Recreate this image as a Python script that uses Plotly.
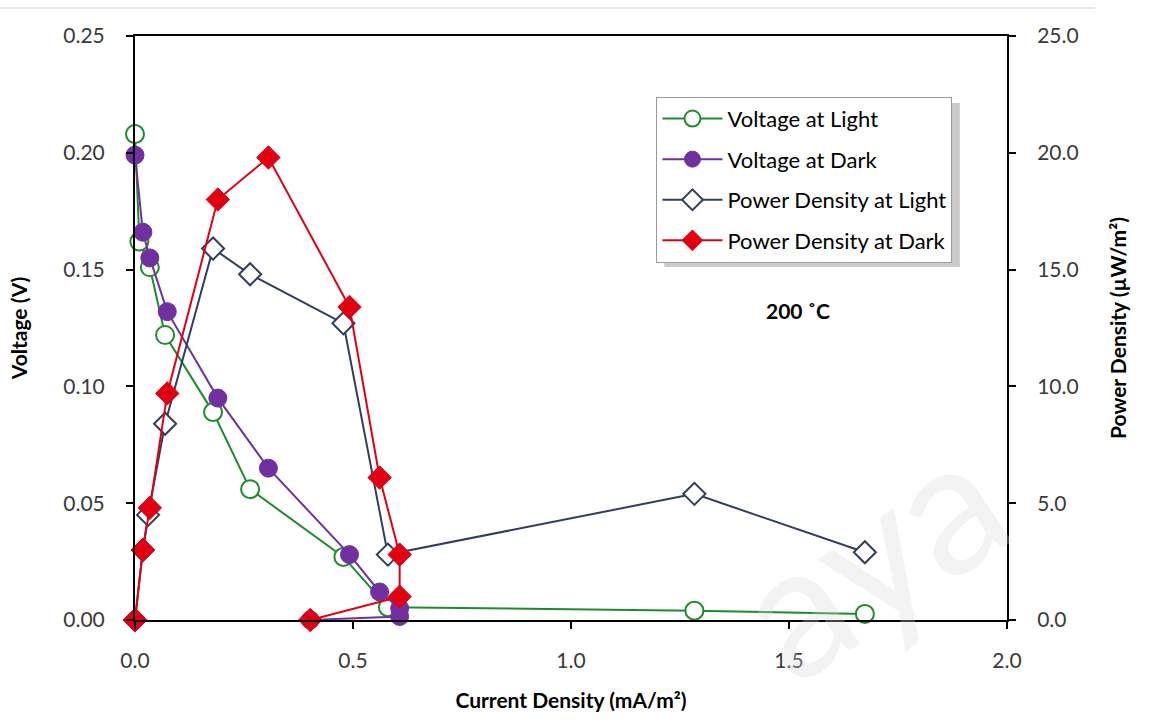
import plotly.graph_objects as go

# Current density (mA/m²) and measured series at 200 °C
cd_light = [0.000, 0.010, 0.034, 0.069, 0.179, 0.264, 0.478, 0.580, 1.283, 1.674]
v_light = [0.208, 0.162, 0.151, 0.122, 0.089, 0.056, 0.027, 0.0055, 0.0040, 0.0026]

cd_dark = [0.000, 0.018, 0.034, 0.074, 0.190, 0.306, 0.492, 0.561, 0.607, 0.607, 0.402]
v_dark = [0.199, 0.166, 0.155, 0.132, 0.095, 0.065, 0.028, 0.012, 0.0050, 0.0015, 0.000]

pd_cd_light = [0.000, 0.018, 0.030, 0.069, 0.179, 0.264, 0.478, 0.580, 1.283, 1.674]
p_light = [0.0, 3.0, 4.5, 8.4, 15.9, 14.8, 12.7, 2.8, 5.4, 2.9]

pd_cd_dark = [0.000, 0.018, 0.034, 0.074, 0.190, 0.306, 0.492, 0.561, 0.607, 0.607, 0.402]
p_dark = [0.0, 3.0, 4.8, 9.7, 18.0, 19.8, 13.4, 6.1, 2.8, 1.0, 0.0]

x_ticks = [0.0, 0.5, 1.0, 1.5, 2.0]
v_ticks = [0.00, 0.05, 0.10, 0.15, 0.20, 0.25]
p_ticks = [0.0, 5.0, 10.0, 15.0, 20.0, 25.0]

FONT = "Lato"
GREEN = "#1e8c2a"
PURPLE = "#7030a0"
NAVY = "#2f3e5f"
RED = "#e00012"

fig = go.Figure()

fig.add_trace(go.Scatter(
    x=cd_light, y=v_light, name="Voltage at Light", mode="lines+markers",
    legendgroup="g1",
    line=dict(color=GREEN, width=2),
    marker=dict(symbol="circle", size=18, color="white", line=dict(color=GREEN, width=2)),
    cliponaxis=False, yaxis="y"))
fig.add_trace(go.Scatter(
    x=cd_dark, y=v_dark, name="Voltage at Dark", mode="lines+markers",
    legendgroup="g2",
    line=dict(color=PURPLE, width=2),
    marker=dict(symbol="circle", size=18, color=PURPLE, line=dict(color=PURPLE, width=1)),
    cliponaxis=False, yaxis="y"))
fig.add_trace(go.Scatter(
    x=pd_cd_light, y=p_light, name="Power Density at Light", mode="lines+markers",
    legendgroup="g3",
    line=dict(color=NAVY, width=2),
    marker=dict(symbol="diamond", size=17, color="white", line=dict(color=NAVY, width=2)),
    cliponaxis=False, yaxis="y2"))
fig.add_trace(go.Scatter(
    x=pd_cd_dark, y=p_dark, name="Power Density at Dark", mode="lines+markers",
    legendgroup="g4",
    line=dict(color=RED, width=2),
    marker=dict(symbol="diamond", size=18, color=RED, line=dict(color=RED, width=1)),
    cliponaxis=False, yaxis="y2"))

axis_common = dict(
    showgrid=False, zeroline=False, showline=True, linecolor="black", linewidth=2,
    ticks="outside", ticklen=7, tickwidth=2, tickcolor="black",
    tickfont=dict(family=FONT, size=21, color="#3a3a3a"),
)

fig.update_layout(
    width=1149, height=725,
    margin=dict(l=135, r=142, t=36, b=105),
    paper_bgcolor="white", plot_bgcolor="white",
    font=dict(family=FONT),
    xaxis=dict(
        range=[0, 2.0], tickvals=x_ticks, tickformat=".1f", mirror=True,
        ticklabelstandoff=14,
        title=dict(text="<b>Current Density (mA/m²)</b>", font=dict(family=FONT, size=21, color="black"), standoff=22),
        **axis_common),
    yaxis=dict(
        range=[0, 0.25], tickvals=v_ticks, tickformat=".2f",
        ticklabelstandoff=17,
        title=dict(text="<b>Voltage (V)</b>", font=dict(family=FONT, size=21, color="black"), standoff=30),
        **axis_common),
    yaxis2=dict(
        range=[0, 25], tickvals=p_ticks, tickformat=".1f", overlaying="y", side="right",
        ticklabelstandoff=17,
        title=dict(text="<b>Power Density (µW/m²)</b>", font=dict(family=FONT, size=21, color="black"), standoff=34),
        **axis_common),
    legend=dict(
        x=0.598, y=0.896, xanchor="left", yanchor="top",
        bgcolor="white", bordercolor="#9a9a9a", borderwidth=1,
        font=dict(family=FONT, size=22, color="black"),
        itemwidth=60, tracegroupgap=9,
    ),
    showlegend=True,
)

# soft drop shadow behind the legend box
fig.add_shape(type="rect", xref="paper", yref="paper",
              x0=(663 - 135) / 870, x1=(958 - 135) / 870,
              y0=(620 - 267) / 584, y1=(620 - 103) / 584,
              fillcolor="rgba(110,110,110,0.35)", line=dict(width=0), layer="below")

# thin rule along the top edge of the page
fig.add_shape(type="line", xref="paper", yref="paper",
              x0=-135 / 870, x1=(1093 - 135) / 870,
              y0=(620 - 8) / 584, y1=(620 - 8) / 584,
              line=dict(color="#cfcfcf", width=1))

fig.add_annotation(x=1.52, y=0.53, xref="x", yref="paper", text="<b>200 ˚C</b>",
                   showarrow=False, font=dict(family=FONT, size=21, color="black"))

# faint background watermark
fig.add_annotation(x=(866 - 135) / 870, y=(620 - 552) / 584, xref="paper", yref="paper",
                   text="aya", textangle=-34, showarrow=False,
                   xanchor="center", yanchor="middle",
                   font=dict(family=FONT, size=185, color="rgba(215,215,215,0.3)"))

fig.write_html("out.html")
